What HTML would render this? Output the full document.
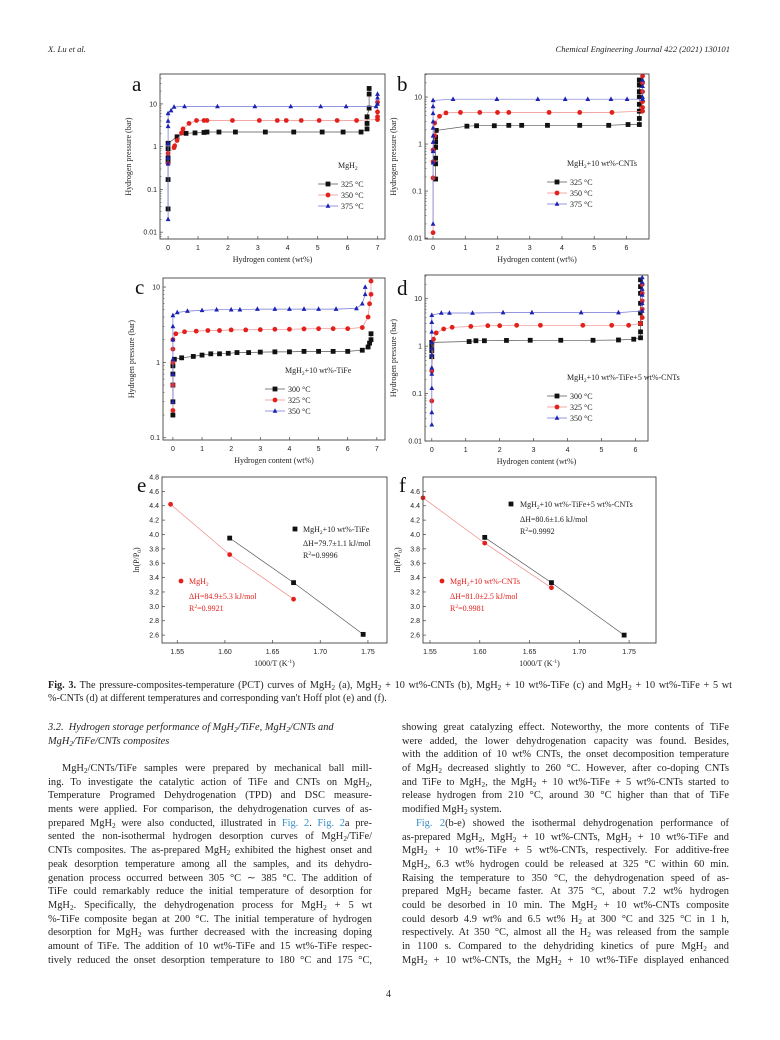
<!DOCTYPE html>
<html><head><meta charset="utf-8">
<style>
html,body{margin:0;padding:0;background:#fff;}
body{width:780px;height:1040px;position:relative;overflow:hidden;font-family:"Liberation Serif",serif;color:#231f20;}
.hd{position:absolute;top:44px;font-style:italic;font-size:8.6px;}
.cap{position:absolute;left:48px;width:684px;font-size:10.2px;line-height:12.5px;font-family:"Liberation Serif",serif;}
.cap div{white-space:nowrap;}
.cap .j{text-align:justify;text-align-last:justify;}
.col{position:absolute;font-size:10.4px;}
.col div{height:13.7px;line-height:13.7px;text-align:justify;text-align-last:justify;white-space:nowrap;}
.col div.l{text-align-last:left;}
.col div.i{text-indent:14px;}
sub{font-size:70%;vertical-align:-2px;line-height:0;}
.lk{color:#3a8fc7;}
svg{position:absolute;left:0;top:0;}
</style></head><body>
<div class="hd" style="left:48px">X. Lu et al.</div>
<div class="hd" style="right:50px">Chemical Engineering Journal 422 (2021) 130101</div>

<svg id="fig" width="780" height="680" viewBox="0 0 780 680"></svg>

<div class="cap" style="top:680px"><div class="j"><b>Fig. 3.</b> The pressure-composites-temperature (PCT) curves of MgH<sub>2</sub> (a), MgH<sub>2</sub> + 10 wt%-CNTs (b), MgH<sub>2</sub> + 10 wt%-TiFe (c) and MgH<sub>2</sub> + 10 wt%-TiFe + 5 wt</div><div>%-CNTs (d) at different temperatures and corresponding van't Hoff plot (e) and (f).</div></div>

<div class="col" style="left:48px;top:721px;width:324px;font-style:italic;">
<div class="l">3.2.&nbsp; Hydrogen storage performance of MgH<sub>2</sub>/TiFe, MgH<sub>2</sub>/CNTs and</div>
<div class="l">MgH<sub>2</sub>/TiFe/CNTs composites</div>
</div>
<div class="col" style="left:48px;top:762px;width:324px;">
<div class="i">MgH<sub>2</sub>/CNTs/TiFe samples were prepared by mechanical ball mill-</div>
<div>ing. To investigate the catalytic action of TiFe and CNTs on MgH<sub>2</sub>,</div>
<div>Temperature Programed Dehydrogenation (TPD) and DSC measure-</div>
<div>ments were applied. For comparison, the dehydrogenation curves of as-</div>
<div>prepared MgH<sub>2</sub> were also conducted, illustrated in <span class="lk">Fig. 2</span>. <span class="lk">Fig. 2</span>a pre-</div>
<div>sented the non-isothermal hydrogen desorption curves of MgH<sub>2</sub>/TiFe/</div>
<div>CNTs composites. The as-prepared MgH<sub>2</sub> exhibited the highest onset and</div>
<div>peak desorption temperature among all the samples, and its dehydro-</div>
<div>genation process occurred between 305 °C ∼ 385 °C. The addition of</div>
<div>TiFe could remarkably reduce the initial temperature of desorption for</div>
<div>MgH<sub>2</sub>. Specifically, the dehydrogenation process for MgH<sub>2</sub> + 5 wt</div>
<div>%-TiFe composite began at 200 °C. The initial temperature of hydrogen</div>
<div>desorption for MgH<sub>2</sub> was further decreased with the increasing doping</div>
<div>amount of TiFe. The addition of 10 wt%-TiFe and 15 wt%-TiFe respec-</div>
<div>tively reduced the onset desorption temperature to 180 °C and 175 °C,</div>
</div>
<div class="col" style="left:402px;top:721px;width:327px;">
<div>showing great catalyzing effect. Noteworthy, the more contents of TiFe</div>
<div>were added, the lower dehydrogenation capacity was found. Besides,</div>
<div>with the addition of 10 wt% CNTs, the onset decomposition temperature</div>
<div>of MgH<sub>2</sub> decreased slightly to 260 °C. However, after co-doping CNTs</div>
<div>and TiFe to MgH<sub>2</sub>, the MgH<sub>2</sub> + 10 wt%-TiFe + 5 wt%-CNTs started to</div>
<div>release hydrogen from 210 °C, around 30 °C higher than that of TiFe</div>
<div class="l">modified MgH<sub>2</sub> system.</div>
<div class="i"><span class="lk">Fig. 2</span>(b-e) showed the isothermal dehydrogenation performance of</div>
<div>as-prepared MgH<sub>2</sub>, MgH<sub>2</sub> + 10 wt%-CNTs, MgH<sub>2</sub> + 10 wt%-TiFe and</div>
<div>MgH<sub>2</sub> + 10 wt%-TiFe + 5 wt%-CNTs, respectively. For additive-free</div>
<div>MgH<sub>2</sub>, 6.3 wt% hydrogen could be released at 325 °C within 60 min.</div>
<div>Raising the temperature to 350 °C, the dehydrogenation speed of as-</div>
<div>prepared MgH<sub>2</sub> became faster. At 375 °C, about 7.2 wt% hydrogen</div>
<div>could be desorbed in 10 min. The MgH<sub>2</sub> + 10 wt%-CNTs composite</div>
<div>could desorb 4.9 wt% and 6.5 wt% H<sub>2</sub> at 300 °C and 325 °C in 1 h,</div>
<div>respectively. At 350 °C, almost all the H<sub>2</sub> was released from the sample</div>
<div>in 1100 s. Compared to the dehydriding kinetics of pure MgH<sub>2</sub> and</div>
<div>MgH<sub>2</sub> + 10 wt%-CNTs, the MgH<sub>2</sub> + 10 wt%-TiFe displayed enhanced</div>
</div>
<div style="position:absolute;left:386px;top:989px;font-size:10px;">4</div>

<script>
var NS="http://www.w3.org/2000/svg",svg=document.getElementById("fig");
function el(t,a,txt){var e=document.createElementNS(NS,t);for(var k in a)e.setAttribute(k,a[k]);if(txt!==undefined)e.textContent=txt;svg.appendChild(e);return e;}
function T(x,y,s,o){o=o||{};var a={x:x,y:y,"font-size":o.fs||7,"font-family":o.ff||"Liberation Sans, sans-serif",fill:o.fill||"#222"};if(o.anchor)a["text-anchor"]=o.anchor;if(o.tr)a.transform=o.tr;if(o.fw)a["font-weight"]=o.fw;var e=el("text",a);e.innerHTML=s;return e;}
var C={k:"#111",r:"#e3211c",b:"#1c23b0"},LC={k:"#555",r:"#f08a8a",b:"#6f74d6"};
function mark(t,x,y,s){s=s||2.4;if(t=="k")el("rect",{x:x-s,y:y-s,width:2*s,height:2*s,fill:C.k});else if(t=="r")el("circle",{cx:x,cy:y,r:s,fill:C.r});else el("polygon",{points:(x)+","+(y-s-0.4)+" "+(x-s)+","+(y+s-0.6)+" "+(x+s)+","+(y+s-0.6),fill:C.b});}
function plot(c){
 var X=function(v){return c.f[0]+(v-c.x[0])/(c.x[1]-c.x[0])*(c.f[2]-c.f[0]);};
 var Y=function(v){var lv=c.log?Math.log10(v):v;return c.f[3]-(lv-c.y[0])/(c.y[1]-c.y[0])*(c.f[3]-c.f[1]);};
 (c.s||[]).forEach(function(s){var p=s.d.map(function(q){return X(q[0]).toFixed(1)+","+Y(q[1]).toFixed(1);}).join(" ");
  el("polyline",{points:p,fill:"none",stroke:LC[s.t],"stroke-width":0.7});
  s.d.forEach(function(q){mark(s.t,X(q[0]),Y(q[1]));});});
 el("rect",{x:c.f[0],y:c.f[1],width:c.f[2]-c.f[0],height:c.f[3]-c.f[1],fill:"none",stroke:"#444","stroke-width":0.9});
 c.xt.forEach(function(v){var x=X(v);el("line",{x1:x,y1:c.f[3],x2:x,y2:c.f[3]-3,stroke:"#444","stroke-width":0.7});T(x,c.f[3]+11,c.xl?c.xl(v):v,{anchor:"middle",fs:7});});
 c.yt.forEach(function(v){var y=Y(v);el("line",{x1:c.f[0],y1:y,x2:c.f[0]+3,y2:y,stroke:"#444","stroke-width":0.7});T(c.f[0]-3,y+2.5,c.yl?c.yl(v):v,{anchor:"end",fs:7});});
 if(c.log){for(var d=Math.floor(c.y[0]);d<c.y[1];d++)for(var m=2;m<10;m++){var lv=d+Math.log10(m);if(lv>c.y[0]&&lv<c.y[1]){var y=Y(Math.pow(10,lv));el("line",{x1:c.f[0],y1:y,x2:c.f[0]+1.6,y2:y,stroke:"#444","stroke-width":0.5});}}}
 T((c.f[0]+c.f[2])/2,c.f[3]+23,c.xtitle,{anchor:"middle",fs:8,ff:"Liberation Serif, serif"});
 var yc=(c.f[1]+c.f[3])/2;T(c.f[0]-c.yoff,yc,c.ytitle,{anchor:"middle",fs:8,ff:"Liberation Serif, serif",tr:"rotate(-90 "+(c.f[0]-c.yoff)+" "+yc+")"});
 T(c.lx,c.ly,c.letter,{fs:21,ff:"Liberation Serif, serif",fill:"#111"});
 return {X:X,Y:Y};
}
function legend(x,y,title,labels,types){T(x+20,y,title,{fs:8,ff:"Liberation Serif, serif"});
 labels.forEach(function(l,i){var yy=y+16+i*11;el("line",{x1:x,y1:yy,x2:x+20,y2:yy,stroke:LC[types[i]],"stroke-width":0.8});mark(types[i],x+10,yy);T(x+23,yy+3,l,{fs:8,ff:"Liberation Serif, serif"});});}
var HC="Hydrogen content (wt%)",HP="Hydrogen pressure (bar)";
plot({f:[160,74,385,239],x:[-0.27,7.25],y:[-2.16,1.70],log:1,xt:[0,1,2,3,4,5,6,7],yt:[0.01,0.1,1,10],xtitle:HC,ytitle:HP,yoff:29,letter:"a",lx:132,ly:91,
 s:[{t:"k",d:[[0,0.035],[0,0.17],[0,0.45],[0,0.55],[0,0.9],[0,1.2],[0.3,1.7],[0.6,2.05],[0.9,2.1],[1.2,2.15],[1.3,2.2],[1.7,2.2],[2.25,2.2],[3.25,2.2],[4.2,2.2],[5.15,2.2],[5.85,2.2],[6.45,2.2],[6.65,2.6],[6.65,3.5],[6.65,5],[6.72,8],[6.72,17],[6.72,23]]},
 {t:"r",d:[[0,0.4],[0,0.7],[0.2,0.95],[0.22,1.05],[0.3,1.4],[0.45,2.1],[0.5,2.6],[0.7,3.5],[0.95,4.1],[1.2,4.1],[1.3,4.1],[2.15,4.1],[3.05,4.1],[3.65,4.1],[3.95,4.1],[4.45,4.1],[5.05,4.1],[5.65,4.1],[6.3,4.1],[7,4.3],[7,5],[7,6.5],[7,11]]},
 {t:"b",d:[[0,0.02],[0,0.4],[0,0.55],[0,1.2],[0,3],[0,4],[0,6],[0.1,7],[0.2,8.5],[0.55,8.7],[1.65,8.7],[2.9,8.7],[4.1,8.7],[5.1,8.7],[5.95,8.7],[6.95,8.7],[7,10],[7,14],[7,17]]}]});
legend(318,168,"MgH<tspan font-size='5.5' dy='2'>2</tspan>",["325 °C","350 °C","375 °C"],["k","r","b"]);
plot({f:[425,74,649,239],x:[-0.25,6.7],y:[-2.02,1.49],log:1,xt:[0,1,2,3,4,5,6],yt:[0.01,0.1,1,10],xtitle:HC,ytitle:HP,yoff:29,letter:"b",lx:397,ly:91,
 s:[{t:"k",d:[[0.08,0.18],[0.08,0.38],[0.08,0.5],[0.08,0.85],[0.08,1.1],[0.08,1.4],[0.1,1.95],[1.05,2.4],[1.35,2.45],[1.9,2.45],[2.35,2.5],[2.75,2.5],[3.55,2.5],[4.55,2.5],[5.45,2.5],[6.05,2.6],[6.4,2.6],[6.4,3.5],[6.4,5],[6.4,7],[6.4,10],[6.4,13],[6.4,18],[6.4,23]]},
 {t:"r",d:[[0,0.013],[0,0.19],[0,0.42],[0,0.75],[0.05,1.5],[0.05,2.8],[0.2,3.9],[0.4,4.6],[0.85,4.7],[1.45,4.7],[2.0,4.7],[2.35,4.7],[3.6,4.7],[4.55,4.7],[5.55,4.7],[6.5,5],[6.5,6],[6.5,8],[6.5,13],[6.5,20],[6.5,28]]},
 {t:"b",d:[[0,0.02],[0,0.4],[0,0.7],[0,1.1],[0,1.5],[0,2.2],[0,3],[0,4.5],[0,6.3],[0,8.5],[0.62,9],[1.98,9],[3.25,9],[4.1,9],[4.8,9],[5.52,9],[6.02,9],[6.5,9],[6.5,10],[6.5,17],[6.5,23]]}]});
legend(547,166,"MgH<tspan font-size='5.5' dy='2'>2</tspan><tspan dy='-2'>+10 wt%-CNTs</tspan>",["325 °C","350 °C","375 °C"],["k","r","b"]);
plot({f:[163,278,385,440],x:[-0.34,7.28],y:[-1.03,1.12],log:1,xt:[0,1,2,3,4,5,6,7],yt:[0.1,1,10],xtitle:HC,ytitle:HP,yoff:29,letter:"c",lx:135,ly:294,
 s:[{t:"k",d:[[0,0.2],[0,0.3],[0,0.5],[0,0.7],[0,0.9],[0.05,1.1],[0.3,1.15],[0.7,1.2],[1.0,1.25],[1.3,1.3],[1.6,1.3],[1.9,1.32],[2.2,1.35],[2.6,1.35],[3.0,1.37],[3.5,1.38],[4.0,1.38],[4.5,1.4],[5.0,1.4],[5.5,1.4],[6.0,1.4],[6.5,1.45],[6.7,1.6],[6.75,1.8],[6.8,2.0],[6.8,2.4]]},
 {t:"r",d:[[0,0.23],[0,0.5],[0,1],[0,1.5],[0,2],[0.1,2.4],[0.4,2.55],[0.8,2.6],[1.2,2.65],[1.6,2.65],[2.0,2.7],[2.5,2.7],[3.0,2.72],[3.5,2.75],[4.0,2.75],[4.5,2.78],[5.0,2.8],[5.5,2.8],[6.0,2.8],[6.5,2.9],[6.7,4],[6.75,6],[6.8,8],[6.8,12]]},
 {t:"b",d:[[0,0.3],[0,0.7],[0,1.1],[0,2],[0,3],[0,4.2],[0.15,4.6],[0.5,4.8],[1.0,4.9],[1.5,5.0],[2.0,5.0],[2.3,5.0],[2.9,5.1],[3.5,5.1],[4.0,5.1],[4.5,5.1],[5.0,5.1],[5.6,5.1],[6.3,5.2],[6.5,6],[6.6,8],[6.6,10]]}]});
legend(265,373,"MgH<tspan font-size='5.5' dy='2'>2</tspan><tspan dy='-2'>+10 wt%-TiFe</tspan>",["300 °C","325 °C","350 °C"],["k","r","b"]);
plot({f:[425,275,648,441],x:[-0.2,6.37],y:[-2.0,1.5],log:1,xt:[0,1,2,3,4,5,6],yt:[0.01,0.1,1,10],xtitle:HC,ytitle:HP,yoff:29,letter:"d",lx:397,ly:295,
 s:[{t:"k",d:[[0,0.6],[0,0.8],[0,1.0],[0,1.2],[1.1,1.25],[1.3,1.3],[1.55,1.3],[2.2,1.32],[2.9,1.33],[3.8,1.33],[4.75,1.33],[5.5,1.35],[5.95,1.4],[6.15,1.5],[6.15,2],[6.15,3],[6.15,5],[6.15,8],[6.15,13],[6.15,18],[6.15,25]]},
 {t:"r",d:[[0,0.07],[0,0.3],[0.05,1.4],[0.13,1.9],[0.35,2.3],[0.6,2.5],[1.15,2.6],[1.65,2.7],[2.0,2.7],[2.5,2.75],[3.2,2.75],[4.45,2.75],[5.3,2.75],[5.8,2.75],[6.15,3],[6.2,4],[6.2,6],[6.2,9],[6.2,13],[6.2,20]]},
 {t:"b",d:[[0,0.022],[0,0.04],[0,0.13],[0,0.26],[0,0.35],[0,0.65],[0,0.9],[0,1.2],[0,2],[0,3.2],[0,4.5],[0.28,5],[0.52,5],[1.2,5],[2.1,5.1],[2.95,5.1],[4.4,5.1],[5.5,5.1],[6.2,5.5],[6.2,8],[6.2,12],[6.2,16],[6.2,22],[6.2,28]]}]});
legend(547,380,"MgH<tspan font-size='5.5' dy='2'>2</tspan><tspan dy='-2'>+10 wt%-TiFe+5 wt%-CNTs</tspan>",["300 °C","325 °C","350 °C"],["k","r","b"]);
var f2=function(v){return v.toFixed(2);},f1=function(v){return v.toFixed(1);};
var ys=[];for(var v=2.6;v<4.81;v+=0.2)ys.push(Math.round(v*10)/10);
var PL="ln(P/P<tspan font-size='5.5' dy='2'>0</tspan><tspan dy='-2'>)</tspan>",XT="1000/T (K<tspan font-size='5.5' dy='-3'>-1</tspan><tspan dy='3'>)</tspan>";
plot({f:[162,477,387,643],x:[1.534,1.770],y:[2.49,4.8],xt:[1.55,1.6,1.65,1.7,1.75],xl:f2,yt:ys,yl:f1,xtitle:XT,ytitle:PL,yoff:23,letter:"e",lx:137,ly:492,
 s:[{t:"k",d:[[1.605,3.95],[1.672,3.33],[1.745,2.61]]},{t:"r",d:[[1.543,4.42],[1.605,3.72],[1.672,3.10]]}]});
mark("k",295,529);T(303,532,"MgH<tspan font-size='5.5' dy='2'>2</tspan><tspan dy='-2'>+10 wt%-TiFe</tspan>",{fs:8,ff:"Liberation Serif, serif"});
T(303,546,"ΔH=79.7±1.1 kJ/mol",{fs:8,ff:"Liberation Serif, serif"});T(303,558,"R<tspan font-size='5.5' dy='-3'>2</tspan><tspan dy='3'>=0.9996</tspan>",{fs:8,ff:"Liberation Serif, serif"});
mark("r",181,581);T(189,584,"MgH<tspan font-size='5.5' dy='2'>2</tspan>",{fs:8,ff:"Liberation Serif, serif",fill:C.r});
T(189,599,"ΔH=84.9±5.3 kJ/mol",{fs:8,ff:"Liberation Serif, serif",fill:C.r});T(189,611,"R<tspan font-size='5.5' dy='-3'>2</tspan><tspan dy='3'>=0.9921</tspan>",{fs:8,ff:"Liberation Serif, serif",fill:C.r});
var ys2=[];for(var v=2.6;v<4.61;v+=0.2)ys2.push(Math.round(v*10)/10);
plot({f:[423,477,656,643],x:[1.543,1.777],y:[2.49,4.8],xt:[1.55,1.6,1.65,1.7,1.75],xl:f2,yt:ys2,yl:f1,xtitle:XT,ytitle:PL,yoff:23,letter:"f",lx:399,ly:492,
 s:[{t:"k",d:[[1.605,3.96],[1.672,3.33],[1.745,2.60]]},{t:"r",d:[[1.543,4.51],[1.605,3.88],[1.672,3.26]]}]});
mark("k",511,504);T(520,507,"MgH<tspan font-size='5.5' dy='2'>2</tspan><tspan dy='-2'>+10 wt%-TiFe+5 wt%-CNTs</tspan>",{fs:8,ff:"Liberation Serif, serif"});
T(520,522,"ΔH=80.6±1.6 kJ/mol",{fs:8,ff:"Liberation Serif, serif"});T(520,534,"R<tspan font-size='5.5' dy='-3'>2</tspan><tspan dy='3'>=0.9992</tspan>",{fs:8,ff:"Liberation Serif, serif"});
mark("r",442,581);T(450,584,"MgH<tspan font-size='5.5' dy='2'>2</tspan><tspan dy='-2'>+10 wt%-CNTs</tspan>",{fs:8,ff:"Liberation Serif, serif",fill:C.r});
T(450,599,"ΔH=81.0±2.5 kJ/mol",{fs:8,ff:"Liberation Serif, serif",fill:C.r});T(450,611,"R<tspan font-size='5.5' dy='-3'>2</tspan><tspan dy='3'>=0.9981</tspan>",{fs:8,ff:"Liberation Serif, serif",fill:C.r});
</script>
</body></html>
